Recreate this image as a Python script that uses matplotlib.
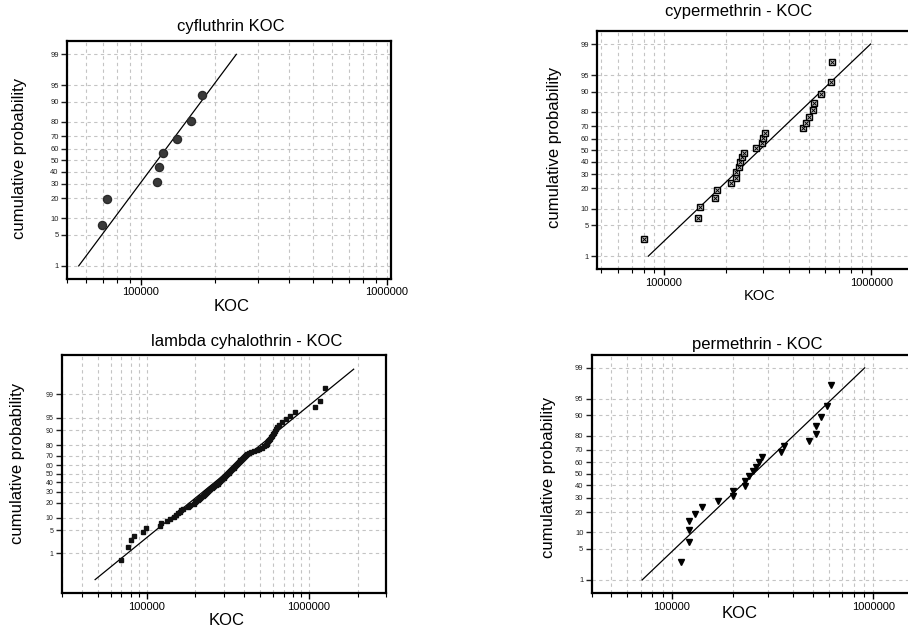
"""Log-normal probability plots of KOC for four pyrethroids."""

from statistics import NormalDist

import numpy as np
from matplotlib import pyplot as plt
from matplotlib.ticker import FixedLocator, NullFormatter

plt.rcParams["font.family"] = ["Liberation Sans", "DejaVu Sans"]

# ---- data ----
prob_ticks = [1, 5, 10, 20, 30, 40, 50, 60, 70, 80, 90, 95, 99]

cyflu_koc = [69700, 73000, 115800, 118000, 122900, 140600, 160300, 177700]
cyflu_pct = [7.6, 19.7, 31.8, 43.9, 56.1, 68.2, 80.3, 92.4]
cyflu_fit_koc = [55800, 244200]
cyflu_fit_pct = [1, 99]

cyper_koc = [80000, 146600, 148800, 176400, 180300, 209800, 222600, 222600,
             229300, 231800, 237900, 243200, 277800, 297000, 299200, 307000,
             469300, 485200, 501600, 522400, 528200, 573000, 640100, 647300]
cyper_pct = [2.6, 6.7, 10.8, 14.9, 19.1, 23.2, 27.3, 31.4, 35.6, 39.7, 43.8, 47.9,
             52.1, 56.2, 60.3, 64.4, 68.6, 72.7, 76.8, 80.9, 85.1, 89.2, 93.3, 97.4]
cyper_fit_koc = [84300, 990000]
cyper_fit_pct = [1, 99]

lambda_koc = [
    69300, 76500, 80500, 83600, 95000, 98600, 121300, 122500, 133300, 140400,
    147100, 151300, 155700, 160100, 164000, 167100, 179300, 181900, 184500, 197000,
    199800, 202700, 206500, 210400, 214400, 217500, 221600, 224800, 229100, 232300,
    235600, 239000, 243500, 247000, 251700, 256500, 261300, 267600, 271400, 273900,
    276500, 280400, 284400, 288500, 292600, 295400, 298200, 301000, 305300, 308200,
    311100, 315500, 320000, 323000, 327600, 330700, 333900, 338600, 343400, 346700,
    350000, 354900, 360000, 365100, 370300, 373800, 379100, 384500, 390000, 393700,
    399300, 405000, 410800, 418600, 428500, 442900, 459900, 477600, 493600, 517300,
    529600, 542300, 550000, 555200, 563100, 571100, 579200, 587400, 595800, 604300,
    610000, 618700, 627500, 639400, 657700, 686200, 726100, 764700, 816700, 1083300,
    1168100, 1265600,
]
lambda_pct = [
    0.6, 1.6, 2.6, 3.5, 4.5, 5.5, 6.5, 7.5, 8.4, 9.4,
    10.4, 11.4, 12.3, 13.3, 14.3, 15.3, 16.3, 17.2, 18.2, 19.2,
    20.2, 21.1, 22.1, 23.1, 24.1, 25.1, 26.0, 27.0, 28.0, 29.0,
    30.0, 30.9, 31.9, 32.9, 33.9, 34.8, 35.8, 36.8, 37.8, 38.8,
    39.7, 40.7, 41.7, 42.7, 43.6, 44.6, 45.6, 46.6, 47.6, 48.5,
    49.5, 50.5, 51.5, 52.4, 53.4, 54.4, 55.4, 56.4, 57.3, 58.3,
    59.3, 60.3, 61.2, 62.2, 63.2, 64.2, 65.2, 66.1, 67.1, 68.1,
    69.1, 70.0, 71.0, 72.0, 73.0, 74.0, 74.9, 75.9, 76.9, 77.9,
    78.9, 79.8, 80.8, 81.8, 82.8, 83.7, 84.7, 85.7, 86.7, 87.7,
    88.6, 89.6, 90.6, 91.6, 92.5, 93.5, 94.5, 95.5, 96.5, 97.4,
    98.4, 99.4,
]
lambda_fit_koc = [48200, 1888000]
lambda_fit_pct = [0.098, 99.89]

perm_koc = [111300, 121500, 121500, 121500, 130600, 141500, 169900, 200100,
            200100, 231400, 231400, 241300, 251600, 261400, 269400, 281000,
            347900, 360000, 477300, 517200, 517200, 549700, 588700, 618500]
perm_pct = cyper_pct
perm_fit_koc = [71200, 905700]
perm_fit_pct = [1, 99]

# ---- probability scale ----
_nd = NormalDist()
_ppf = np.vectorize(_nd.inv_cdf, otypes=[float])
_cdf = np.vectorize(_nd.cdf, otypes=[float])


def to_z(p):
    p = np.clip(np.asarray(p, dtype=float) / 100.0, 1e-12, 1 - 1e-12)
    return _ppf(p)


def from_z(z):
    return _cdf(np.asarray(z, dtype=float)) * 100.0


W, H = 908, 628
fig = plt.figure(figsize=(W / 100, H / 100), dpi=100)


def px_axes(left, top, right, bottom):
    return fig.add_axes([left / W, 1 - bottom / H, (right - left) / W, (bottom - top) / H])


def style(ax, xlim, zlim, ytick_size=5.5):
    ax.set_xscale("log")
    ax.set_yscale("function", functions=(to_z, from_z))
    ax.set_xlim(*xlim)
    ax.set_ylim(float(from_z(zlim[0])), float(from_z(zlim[1])))
    ax.xaxis.set_major_locator(FixedLocator([1e5, 1e6]))
    ax.set_xticklabels(["100000", "1000000"])
    minors = [m * 10 ** k for k in (4, 5, 6) for m in range(2, 10)]
    ax.xaxis.set_minor_locator(FixedLocator(minors))
    ax.xaxis.set_minor_formatter(NullFormatter())
    ax.yaxis.set_major_locator(FixedLocator(prob_ticks))
    ax.yaxis.set_minor_locator(FixedLocator([]))
    ax.set_yticklabels([str(t) for t in prob_ticks])
    grid_kw = dict(color="#c4c4c4", linestyle=(0, (3, 3)), linewidth=0.8)
    ax.grid(True, which="both", axis="x", **grid_kw)
    ax.grid(True, which="major", axis="y", **grid_kw)
    ax.set_axisbelow(True)
    ax.tick_params(axis="y", length=4, width=1, labelsize=ytick_size, pad=2, colors="#222222")
    ax.tick_params(axis="x", which="major", length=4, width=1, labelsize=8, pad=2)
    ax.tick_params(axis="x", which="minor", length=3, width=0.8)
    for sp in ax.spines.values():
        sp.set_linewidth(1.6)
        sp.set_color("black")


def ftext(x, y, s, size=12, **kw):
    fig.text(x / W, 1 - y / H, s, fontsize=size, ha="center", **kw)


# cyfluthrin
ax1 = px_axes(67, 41, 391, 279)
style(ax1, (50000, 1.04e6), (-2.615, 2.62))
ax1.plot(cyflu_fit_koc, cyflu_fit_pct, color="black", lw=0.9)
ax1.plot(cyflu_koc, cyflu_pct, "o", ms=5.8, color="#3a3a3a", mec="#2a2a2a")
ftext(231, 30.7, "cyfluthrin KOC", va="baseline")
ftext(232, 311, "KOC", va="baseline")
ftext(20, 158.7, "cumulative probability", va="center", rotation=90)

# cypermethrin
ax2 = px_axes(597.3, 30.7, 934, 269.3)
style(ax2, (47900, 2.0e6), (-2.615, 2.62))
ax2.plot(cyper_fit_koc, cyper_fit_pct, color="black", lw=0.9)
ax2.plot(cyper_koc, cyper_pct, "s", ms=4.8, mfc="#d8d8d8", mec="black", mew=1.0)
ax2.plot(cyper_koc, cyper_pct, "x", ms=3.0, color="black", mew=0.7)
ftext(739, 16, "cypermethrin - KOC", va="baseline")
ftext(760, 300, "KOC", size=10.5, va="baseline")
ftext(554, 147.3, "cumulative probability", va="center", rotation=90)

# lambda cyhalothrin
ax3 = px_axes(61.7, 355, 386.3, 593.3)
style(ax3, (30000, 3.0e6), (-3.497, 3.477), ytick_size=5)
ax3.plot(lambda_fit_koc, lambda_fit_pct, color="black", lw=0.9)
ax3.plot(lambda_koc, lambda_pct, "s", ms=3.0, color="#111111")
ftext(247, 346.3, "lambda cyhalothrin - KOC", va="baseline")
ftext(227, 625, "KOC", va="baseline")
ftext(17.3, 463, "cumulative probability", va="center", rotation=90)

# permethrin
ax4 = px_axes(591.7, 354.7, 934, 593.3)
style(ax4, (40000, 2.0e6), (-2.62, 2.615))
ax4.plot(perm_fit_koc, perm_fit_pct, color="black", lw=0.9)
ax4.plot(perm_koc, perm_pct, "v", ms=4.6, color="black")
ftext(757, 349, "permethrin - KOC", va="baseline")
ftext(740, 618, "KOC", va="baseline")
ftext(549, 477.3, "cumulative probability", va="center", rotation=90)

fig.savefig("out.png", dpi=100)
